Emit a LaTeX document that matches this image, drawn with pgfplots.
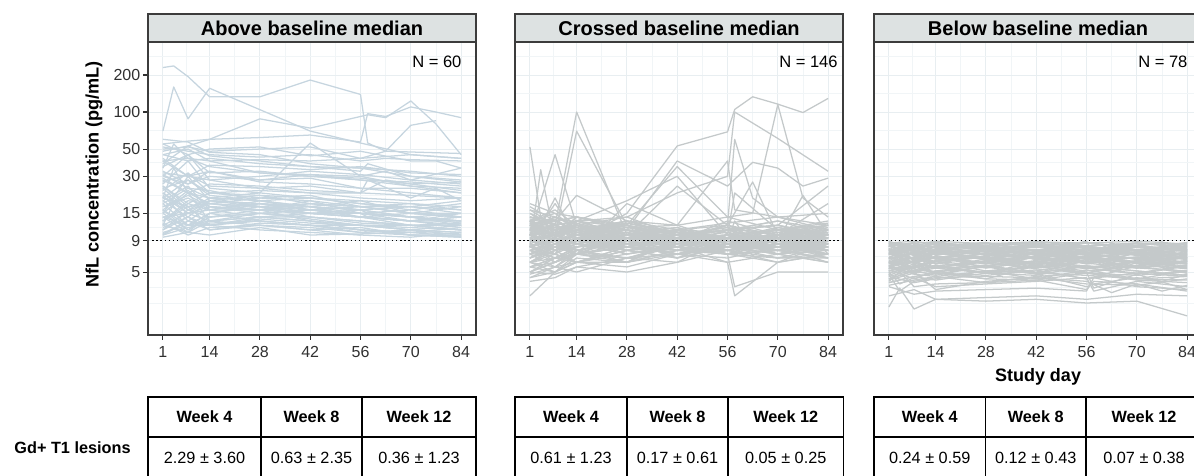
\documentclass[border=0pt]{standalone}
\usepackage{pgfplots}
\pgfplotsset{compat=1.18}
\usepackage{pgfplotstable}
\usepackage{fontspec}
\setmainfont{Liberation Sans}
\definecolor{lineA}{HTML}{C6D5DF}
\definecolor{lineB}{HTML}{C4C9CA}
\definecolor{gridc}{HTML}{E8EEF1}
\definecolor{gridm}{HTML}{F1F5F7}
\definecolor{stripc}{HTML}{DDE2E2}
\definecolor{framec}{HTML}{3C3C3C}
\definecolor{tickc}{HTML}{303030}

% ---------- Panel 1: above baseline median (rows = patients) ----------
\pgfplotstableread[header=has colnames]{
1 8 14 28 42 56 70 84
28 22 20 22 56 30 25 22
50 52 48 50 52 42 45 42
60 57 47 45 38 35 33 30
32 30 28 30 33 31 28 26
30 26 33 27 26 24 22 20
25 18 22 20 21 17 18 16
24 28 21 19 16 17 15 15
22 15 19 18 17 19 15 17
21 13 17 16 19 15 14 12
19 25 16 18 15 14 13 11.5
18 12 15 17 14 13 12 12.5
17 20 16 14 15 14 13 13
16 11 14 16 13 12 11 12
15 22 13 14 14 12.5 12 11
14 10.5 15 13 12 12 11 10.5
13 17 12 14 13 11 10.5 11.5
12 15 13 12 11 11.5 10 10
11 14 11 12.5 12 10.5 10 9.8
10.5 12 12 11 10.5 10 9.6 10.5
9.6 10.5 10 11.5 10 10.2 10.5 9.7
15 30 19 17 18 16 14 13
18 24 20 19 17 15 16 14
22 16 18 20 19 17 17 15
26 40 24 22 20 19 18 17
33 26 30 28 29 24 24 22
40 30 33 28 31 28 27 25
48 53 44 40 36 35 30 28
13 19 18 17 15 14 15 14
11 16 14 15 14 13 12 12
16 12 15 18 16 15 13 12
19 14 19 21 20 18 16 18
23 32 22 23 22 20 19 20
12 10.5 13 14 13 12 11 10
10.2 13 12 13 12 11 10.5 10.2
17 21 17 16 17 14 13 15
20 28 22 21 18 17 15 14
25 17 19 18 17 16 17 19
29 22 26 25 23 22 21 20
36 45 32 33 30 29 26 27
42 30 37 36 34 36 32 31
15 11 14 15 16 15 14 12.5
13 18 16 16 15 14 13 14
31 24 23 19 20 18 17 16
11.5 14 12 13.5 12.5 12 11.5 11
24 16 20 17 15 16 14 13
16 23 17 16 18 17 15 14
10 11.5 12.5 13 12 11 10 9.6
12.5 10 11.5 12 11.5 10.5 11 10.5
14 12 13 15 13.5 12 12 11
}\AmRaw
\pgfplotstableread[header=has colnames]{
1 4 8 14 28 42 56 58 63 70 77 84
230 237 194 133 133 182 139 56 48 nan nan 46
70 160 88 156 nan 70 56 nan nan 45 nan 42
38 nan 53 60 88 74 92 95 90 123 80 45
55 nan 45 50 52 44 48 nan nan 40 40 35
45 nan 40 42 38 36 33 38 nan 30 nan 27
35 55 42 36 32 30 28 nan nan 25 nan 24
27 nan 31 25 24 25 22 nan 28 26 nan 23
20 nan 17 18 16 15 15 14 nan 13 nan 14
10 nan 13 11 12 11 10 11 nan 10 nan 9.6
12 18 15 17 15 16 14 nan nan 12 nan 11
14 nan 15 16 19 17 16 15 nan 14 nan 13
52 nan 48 45 43 45 40 nan 42 41 nan 40
20 35 22 18 17 16 15 nan nan 14 nan 15
45 nan 50 40 32 31 30 nan 33 28 nan 35
30 nan 45 28 24 22 22 28 nan 20 24 19
55 nan 58 60 62 65 57 97 92 110 100 90
40 nan 42 40 41 40 42 nan 48 78 85 nan
}\AeRaw

% ---------- Panel 2: crossed baseline median ----------
\pgfplotstableread[header=has colnames]{
1 8 14 28 42 56 70 84
14 12 9 11 8 10 7.5 8.5
6 8 7 10 9.5 12 10 11
10 7.5 11 9 6.5 8 7 9.5
5 6.5 7.5 6 9.5 8 10 8
13 15 11 12 8.5 9.5 8 10
8 10.5 12 9 7 8.5 10 11.5
5.5 5 7 6.5 6 9.5 8 7
11 9 12 8 7 6.5 8 6
9.5 7 6 8 10 11 13 10
15 12 13 10 11 8 9.5 7.5
6.5 8 9.5 7 8.5 10 9 12
12 10 14 11 9.5 7.5 8.5 7
7 9 10 12 9 13 10 10.5
12.5 11 8.5 10 8 7 6 8.5
8.5 6 7.5 9.5 8 11 12 10
4.5 5.5 6 7.5 6.5 9.5 8 7
10 12.5 9 7.5 6.5 8 8.5 6.5
16 12 13 10 11.5 8.5 7.5 9
6 7.5 6 8 10 7 9.5 8.5
11.5 13 10.5 8.5 9 10 7 8
7.5 6 8 9.5 8 11 10.5 12
13 16 12 14 10 9 11 8
8 9.5 11 13 10 8 7 6
10 12 9.5 8 10.5 7.5 8.5 9.5
4.8 5.5 5 6.5 7 8 10 7.5
12 9 8.5 7.5 8 7 6.5 7
9 11 13 10 9.5 8 7.5 9.5
7 5.5 7.5 9 10.5 9 11 13
17 13 14 11 10.5 9.5 8 8.5
11 14 11.5 9 7.5 10 9 8
7.5 7 9.5 10.5 8 11 8.5 10
10 8 7 6.5 8.5 10 11 12.5
14 12 13 10 11 8 9.5 10
5.5 6.5 6 7.5 9.5 10 11 8.5
9 8 10.5 12 9 7.5 6 7
12 14 12.5 10 11 10.5 8 7.5
8 9.5 7.5 9 10.5 8 11.5 10
6 5 6.5 6 7.5 7 10 9.5
10.5 12 9 10 8 7 7.5 8.5
15 11 9.5 10.5 8.5 9 7 7.5
7 8.5 10 11.5 12 14 11 10
11 9.5 12 8.5 9.5 7.5 9 7
9.5 8 7.5 8.5 7 9.5 11 10
4.5 5 6 5.5 7 8.5 10 11
13 10.5 11 9 7.5 8 6.5 6.5
8.5 10 11 13 10 8.5 10.5 9
10 9 8 8.5 11 12 9 8
6 7.5 8.5 7 8 9.5 11 12
12 13.5 10.5 11 9 8 9.5 11
7.5 9 7 8 10 11.5 8.5 9.5
16 14 12 10 11 8.5 9 8
9 10.5 11.5 9 7.5 7 8.5 7.5
5 6 7 8 7.5 10 9 9.5
11 13 14 12 10 8.5 7.5 8
8 7 8.5 9.5 11 12.5 14 11
10.5 9.5 8.5 10.5 8 7 7.5 6.5
6.5 8 9.5 10.5 8 7.5 9.5 8.5
13 11.5 12 9.5 11 8.5 8 7.5
9 7.5 8 9.5 10 11.5 10 12
11.5 10 9 8.5 7 7.5 6.5 8
7 8.5 7.5 6.5 8 10 11 9
12.5 10 12 11 9 9.5 7.5 7
8 9.5 7 8 9.5 11 9 10.5
5.5 6.5 8 9 10 11 12 9.5
14 13 10.5 9.5 8.5 10 8 7.5
10 10.5 12 11 8.5 8 7 8.5
6 7 6 7.5 8.5 9.5 9 10
9.5 11.5 10 8 7.5 9 10 7.5
11 9 8.5 7.5 9.5 10.5 8.5 9
7 8.5 9 10.5 11.5 9 8 9.5
13 10 9 9.5 8 7 7.5 6.5
8.5 7.5 9.5 7.5 8 9.5 11.5 10
4.2 4.5 5.5 5 6 7.5 9.5 8.5
10 12 10.5 12.5 10 8.5 9 7.5
7.5 6.5 8 9.5 10 11 13 11
12.5 13 11 9.5 8 7.5 8.5 9
9 10 8.5 8 7 8.5 9.5 10.5
6 6.5 8 9.5 10.5 8.5 7.5 9.5
11 10 13 11.5 10.5 9 8 7
8 9 10 11 8.5 7.5 8 9.5
18 15 14 12 10 9.5 8 8.5
5 4.8 5.5 6.5 7 8 9.5 10
10 8.5 10.5 9 8 9.5 10 8.5
7.5 8.5 7 8 9.5 11 12 10
12 11 11.5 10 9.5 8.5 7.5 8
6.5 7.5 9 8 9.5 10 8.5 9
13.5 12 10 11 9 8 9 9.5
8 6.5 7 8.5 9 9.5 10 11
10 11.5 9.5 9 10 9 7.5 8
5.5 6 7 9.5 8 7.5 8.5 7.5
}\BmRaw
\pgfplotstableread[header=has colnames]{
1 4 8 14 28 42 56 58 63 70 77 84
52 14 10 9 8 9 8 nan nan 9 nan 8
8 34 9 10 nan 9 8 nan nan 8 nan 9
10 nan 45 12 9 10 9 nan nan 9 nan 8
11 nan 12 100 10 9 10 nan nan 9 nan 10
9 nan 10 70 12 10 9 nan nan 8 nan 9
8 nan 9 9 15 53 69 105 133 116 99 129
12 nan 11 13 14 22 30 100 nan 61 nan 33
10 nan 9 10 12 36 14 nan 15 115 20 14
9 nan 8 9 11 40 25 nan 39 35 25 29
7 nan 8 9 10 25 12 60 20 14 nan 12
8 nan 7 6 7 8 6 3.2 nan 6 nan 7
3.2 nan 5 6 6 7 6 nan nan 7 nan 6
14 nan 13 21 13 12 40 16 nan 14 nan 15
6 nan 5.5 7 18 12 9 nan nan 8 nan 9
9 nan 18 10 8 7 8 nan nan 9 21 10
10 12 20 9 8 9 10 22 nan 11 nan 10
7 nan 7 13 19 30 10 nan nan 8 nan 11
8 nan 9 8 10 9 7 3.8 nan 5 nan 5
12 nan 10 11 9 10 11 nan nan 12 nan 25
11 nan 12 10 13 11 9 nan nan 10 nan 18
5 nan 6 7 6 9 12 nan 27 10 nan 9
13 9.5 nan 11 12.5 nan 9 13 8 nan 12 7
6.5 nan 8.5 nan 6 7.5 nan 10.5 6.8 9 nan 11.5
11.5 7.5 nan 14 nan 9.5 12 7 nan 10 8 nan
}\BeRaw

% ---------- Panel 3: below baseline median ----------
\pgfplotstableread[header=has colnames]{
1 8 14 28 42 56 70 84
8.6 7.4 8.1 7.7 6.9 7.8 7.2 6.6
6.2 5.3 6.8 5.9 5.4 6.3 5.6 6.1
7.1 7.9 8.4 6.8 7.6 6.4 7.3 7.8
5.1 5.8 4.9 6.2 5.6 4.9 6.1 5.4
8.1 8.7 6.9 7.4 8.6 7.9 7.2 6.8
4.6 5.2 5.7 4.9 4.7 5.6 5.1 4.7
7.6 6.3 7.2 6.6 5.9 7.1 6.4 5.8
6.4 7.3 5.8 7.2 6.6 5.4 6.2 6.7
8.9 7.3 8.2 8.7 7.4 8.6 8.1 7.3
5.6 6.2 6.7 5.4 6.1 6.8 5.9 5.3
4.1 4.6 4.3 4.9 5.2 4.4 4.9 4.6
7.2 8.2 7.4 6.9 8.1 7.6 8.3 8.6
6.1 6.6 7.3 6.4 7.2 5.8 6.6 7.2
5.2 4.4 5.1 5.7 4.9 6.2 5.4 5.1
8.2 6.8 7.7 8.3 6.8 6.6 7.2 6.4
6.6 5.9 5.4 6.2 6.7 7.2 5.9 6.1
7.4 8.6 7.8 7.3 8.2 8.7 7.4 8.1
4.4 5.1 5.6 6.1 5.3 4.9 5.7 6.2
8.4 7.9 8.7 7.3 8.1 6.9 8.2 7.6
5.4 4.9 6.1 5.1 5.6 5.4 4.8 5.6
7.2 6.3 5.9 6.7 7.2 7.7 6.3 7.1
5.9 7.2 6.4 7.6 6.3 6.6 7.2 5.9
3.9 4.3 4.6 4.1 4.6 4.9 4.3 4.1
8.1 8.6 8.8 7.8 7.4 8.2 8.6 7.9
4.9 5.6 4.8 5.6 6.2 5.3 6.1 6.6
7.7 6.9 7.6 7.1 6.4 7.2 7.6 6.9
6.6 5.4 6.1 6.6 5.8 6.7 5.4 6.2
8.8 7.8 7.4 8.6 8.4 7.3 6.9 7.7
4.6 4.1 4.4 5.1 4.4 5.2 4.4 4.3
6.9 7.7 6.4 5.9 7.1 5.9 6.6 6.4
5.6 6.6 7.1 6.3 5.8 6.6 7.2 6.3
8.2 7.4 8.1 8.6 7.3 8.7 7.6 8.2
6.1 4.9 5.6 4.9 5.7 5.1 5.6 4.9
7.6 8.1 6.9 7.6 6.9 7.4 8.1 7.4
5.1 5.6 6.2 6.6 5.9 5.4 4.9 5.7
8.6 8.9 8.4 7.9 8.8 8.1 8.6 8.4
4.3 4.9 5.1 4.4 5.6 4.9 4.7 5.1
6.4 7.1 7.6 6.9 5.9 7.2 7.6 6.9
7.1 5.9 6.6 5.8 7.1 6.4 5.9 6.6
5.6 4.8 4.6 5.1 4.9 5.6 5.1 4.7
8.1 6.9 8.2 6.9 7.6 8.1 6.8 7.6
5.8 6.6 6.1 7.1 7.6 6.3 6.6 5.9
7.4 7.6 8.6 8.1 7.4 6.9 8.1 6.9
5.1 6.1 5.4 5.6 6.6 5.9 5.4 6.1
6.6 5.9 7.1 6.4 6.6 5.9 7.1 6.4
8.6 7.4 6.9 7.6 8.1 8.6 7.9 7.4
4.7 5.6 4.9 4.7 5.1 4.4 5.6 5.4
7.1 6.9 6.4 7.6 6.4 7.6 7.1 7.6
5.6 6.1 6.6 5.9 5.4 6.1 6.6 5.9
8.1 8.6 7.9 8.1 8.6 7.4 8.6 8.1
6.1 5.4 6.1 5.6 6.1 5.4 6.1 5.6
7.1 8.1 7.4 6.4 7.1 8.1 7.4 6.6
4.4 5.1 4.7 5.6 4.9 4.7 4.4 5.1
7.6 6.4 7.1 7.4 8.1 6.9 6.4 7.1
6.4 7.1 6.4 5.9 6.6 7.6 6.9 7.1
5.4 5.6 6.1 6.6 5.4 6.6 6.1 4.9
8.6 8.1 7.4 8.6 8.1 7.9 7.4 8.6
5.9 6.6 7.1 6.4 7.6 7.1 6.4 6.6
4.9 5.6 5.4 4.9 6.1 5.6 5.4 6.1
7.4 7.1 8.1 6.9 7.6 6.9 8.1 7.6
6.6 7.6 6.4 7.1 6.4 5.9 7.1 6.4
4.1 4.6 4.9 4.4 4.3 4.9 4.4 4.6
8.1 7.4 8.6 8.1 6.9 8.1 8.6 7.9
5.9 6.1 5.4 6.1 6.6 6.1 5.6 6.6
7.1 6.4 7.6 8.1 7.4 6.9 7.6 6.9
5.6 6.6 5.9 5.4 6.1 6.6 5.9 6.1
}\CmRaw
\pgfplotstableread[header=has colnames]{
1 4 8 14 28 42 56 58 63 70 77 84
2.6 3.7 2.5 3 3.1 3.2 3 nan nan 3.3 nan 3.2
3.2 nan 3.6 3 2.9 3 2.8 nan nan 2.9 nan 2.2
3.8 nan 3.3 3.5 3.6 3.7 3.5 4.5 nan 3.8 nan 3.6
4.2 5 3.8 4 4.1 4.3 3.6 4.2 nan 4 3.5 3.9
8.8 nan 8.2 8.9 8.5 8.8 8.6 nan nan 8.9 8.7 8.4
7.5 8.8 7 8 8.5 7.5 8.9 7 nan 8 8.8 7.5
5 4 4.5 3.8 4 4.2 4.5 3.5 nan 4.2 nan 3.8
6.5 nan 5 3.6 4.2 4.5 4 nan nan 3.9 nan 4.4
4.8 3.5 4.2 4.5 4.6 4.5 4.2 nan 3.4 4 nan 3.5
6 5 5.5 5 5.5 4.8 3.8 4 nan 4.5 4.2 4.8
7 nan 6 6.5 7 8.5 7 nan 5 6 nan 5.5
5.5 nan 6 5.5 5 5.5 5 3.7 nan 4.8 nan 3.6
7.8 6.5 8.4 7.2 nan 8.3 6.9 7.7 nan 8.5 7 8.2
6.9 8.2 6.1 7.5 7.9 nan 6.4 8 7.2 nan 6.6 7.4
5.3 6.8 5 nan 6.4 5.7 nan 6.6 5.4 6.2 nan 5.8
8.4 7.1 nan 8.8 7.7 nan 8.1 7.3 8.6 7.5 nan 8.7
}\CeRaw

% transpose: columns become patients, column 0 holds the study day
\pgfplotstabletranspose{\Am}{\AmRaw}
\pgfplotstabletranspose{\Ae}{\AeRaw}
\pgfplotstabletranspose{\Bm}{\BmRaw}
\pgfplotstabletranspose{\Be}{\BeRaw}
\pgfplotstabletranspose{\Cm}{\CmRaw}
\pgfplotstabletranspose{\Ce}{\CeRaw}
\pgfplotstablegetcolsof{\Am}\pgfmathtruncatemacro\nAm{\pgfplotsretval-1}
\pgfplotstablegetcolsof{\Ae}\pgfmathtruncatemacro\nAe{\pgfplotsretval-1}
\pgfplotstablegetcolsof{\Bm}\pgfmathtruncatemacro\nBm{\pgfplotsretval-1}
\pgfplotstablegetcolsof{\Be}\pgfmathtruncatemacro\nBe{\pgfplotsretval-1}
\pgfplotstablegetcolsof{\Cm}\pgfmathtruncatemacro\nCm{\pgfplotsretval-1}
\pgfplotstablegetcolsof{\Ce}\pgfmathtruncatemacro\nCe{\pgfplotsretval-1}

\pgfplotsset{every axis/.append style={
    width=246pt, height=219.75pt, scale only axis,
    xmin=-3.15, xmax=88.15, ymin=1.538, ymax=371,
    xtick={1,14,28,42,56,70,84}, xticklabels={1,14,28,42,56,70,84},
    minor xtick={7.5,21,35,49,63,77},
    ytick={5,9,15,30,50,100,200},
    minor ytick={2.78,3.73,6.71,11.62,21.21,38.73,70.71,141.4,282.8},
    grid=both,
    major grid style={gridc, line width=0.7pt},
    minor grid style={gridm, line width=0.5pt},
    minor tick length=0pt, major tick length=3.75pt, tick align=outside,
    xtick pos=left, ytick pos=left,
    tick style={tickc, line width=0.8pt},
    axis line style={framec, line width=0.8pt},
    tick label style={font=\fontsize{12}{14}\selectfont, text=tickc},
    xticklabel style={yshift=-1.5pt},
    yticklabel style={xshift=1.5pt},
    unbounded coords=discard,
}}
\newcommand\tabfont{\fontsize{12.2}{14}\selectfont}
\newcommand\gdtab[7]{%
  \draw[black, line width=0.9pt] (#1,397) rectangle (#4,479);
  \draw[black, line width=0.9pt] (#1,437) -- (#4,437) (#2,397) -- (#2,479) (#3,397) -- (#3,479);
  \node[font=\bfseries\tabfont] at ({(#1+#2)/2},417) {Week 4};
  \node[font=\bfseries\tabfont] at ({(#2+#3)/2},417) {Week 8};
  \node[font=\bfseries\tabfont] at ({(#3+#4)/2},417) {Week 12};
  \node[font=\tabfont] at ({(#1+#2)/2},458) {#5};
  \node[font=\tabfont] at ({(#2+#3)/2},458) {#6};
  \node[font=\tabfont] at ({(#3+#4)/2},458) {#7};
}

\begin{document}
\begin{tikzpicture}
% ---- panel 1
\begin{semilogyaxis}[name=p1, anchor=north west, at={(111pt,-31.5pt)}, yticklabels={5,9,15,30,50,100,200}]
\pgfplotsinvokeforeach{1,...,\nAm}{\addplot[lineA, line width=0.95pt, line join=round] table[x index=0, y index=#1]{\Am};}
\pgfplotsinvokeforeach{1,...,\nAe}{\addplot[lineA, line width=0.95pt, line join=round] table[x index=0, y index=#1]{\Ae};}
\addplot[black, line width=1.1pt, dotted] coordinates {(-3.15,9) (88.15,9)};
\end{semilogyaxis}
% ---- panel 2
\begin{semilogyaxis}[name=p2, anchor=north west, at={(386.25pt,-31.5pt)}, yticklabels={}, ytick style={draw=none}]
\pgfplotsinvokeforeach{1,...,\nBm}{\addplot[lineB, line width=0.95pt, line join=round] table[x index=0, y index=#1]{\Bm};}
\pgfplotsinvokeforeach{1,...,\nBe}{\addplot[lineB, line width=0.95pt, line join=round] table[x index=0, y index=#1]{\Be};}
\addplot[black, line width=1.1pt, dotted] coordinates {(-3.15,9) (88.15,9)};
\end{semilogyaxis}
% ---- panel 3
\begin{semilogyaxis}[name=p3, anchor=north west, at={(655.5pt,-31.5pt)}, yticklabels={}, ytick style={draw=none}]
\pgfplotsinvokeforeach{1,...,\nCm}{\addplot[lineB, line width=0.95pt, line join=round] table[x index=0, y index=#1]{\Cm};}
\pgfplotsinvokeforeach{1,...,\nCe}{\addplot[lineB, line width=0.95pt, line join=round] table[x index=0, y index=#1]{\Ce};}
\addplot[black, line width=1.1pt, dotted] coordinates {(-3.15,9) (88.15,9)};
\end{semilogyaxis}

% strips, frames, N labels
\foreach \p/\t/\nn in {p1/Above baseline median/60, p2/Crossed baseline median/146, p3/Below baseline median/78}{
  \draw[framec, line width=0.8pt, fill=stripc] (\p.north west) rectangle ([yshift=21pt]\p.north east);
  \node[font=\bfseries\fontsize{15}{17}\selectfont] at ([yshift=10.5pt]\p.north) {\t};
  \draw[framec, line width=0.8pt] (\p.south west) rectangle (\p.north east);
  \node[anchor=west, font=\fontsize{12.4}{14}\selectfont, inner sep=0pt] at ([xshift=198pt,yshift=-14.5pt]\p.north west) {N = \nn};
}
% axis titles
\node[rotate=90, font=\bfseries\fontsize{13.6}{16}\selectfont] at (70.5pt,-130.9pt) {NfL concentration (pg/mL)};
\node[font=\bfseries\fontsize{13.5}{16}\selectfont] at (778.5pt,-282.75pt) {Study day};

% tables below
\begin{scope}[x=0.75pt, y=-0.75pt]
  \node[font=\bfseries\tabfont] at (72.5,448) {Gd+ T1 lesions};
  \gdtab{148}{261}{362}{476}{2.29 ± 3.60}{0.63 ± 2.35}{0.36 ± 1.23}
  \gdtab{515}{627}{728}{843.5}{0.61 ± 1.23}{0.17 ± 0.61}{0.05 ± 0.25}
  \gdtab{874}{985.5}{1086}{1202}{0.24 ± 0.59}{0.12 ± 0.43}{0.07 ± 0.38}
\end{scope}

\pgfresetboundingbox
\path[use as bounding box] (0pt,0pt) rectangle (895.5pt,-356.25pt);
\end{tikzpicture}
\end{document}
